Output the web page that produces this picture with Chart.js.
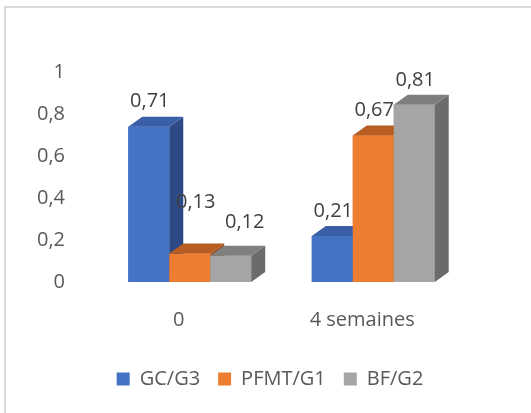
<!DOCTYPE html>
<html>
<head>
<meta charset="utf-8">
<script src="https://cdn.jsdelivr.net/npm/chart.js@4"></script>
<style>
  html, body { margin: 0; padding: 0; background: #fff; }
  #wrap { position: relative; width: 531px; height: 413px; overflow: hidden; }
  #frame { position: absolute; left: 4px; top: 6px; width: 600px; height: 500px;
           border-left: 2px solid #d9d9d9; border-top: 2px solid #d9d9d9; }
  canvas { position: absolute; left: 0; top: 0; }
</style>
</head>
<body>
<div id="wrap">
  <div id="frame"></div>
  <canvas id="myChart" width="531" height="413"></canvas>
</div>
<script>
'use strict';

const categories = ['0', '4 semaines'];
const seriesNames = ['GC/G3', 'PFMT/G1', 'BF/G2'];
const gcValues = [0.71, 0.21];
const pfmtValues = [0.13, 0.67];
const bfValues = [0.12, 0.81];
const yTickLabels = ['0', '0,2', '0,4', '0,6', '0,8', '1'];

const frontColors = ['#4472C4', '#ED7D31', '#A5A5A5'];
const topColors = ['#3A5FA6', '#B85E22', '#7F7F7F'];
const sideColors = ['#2D4A86', '#A0501C', '#6B6B6B'];
const depthX = 14, depthY = 10;
const fontFam = '"Open Sans", sans-serif';

// Excel moved a couple of value labels around, [dx, dy] per dataset/category
const labelNudge = {
  '1-0': [5, -26],
  '2-0': [13, -8]
};

const ctx = document.getElementById('myChart').getContext('2d');

const bar3d = {
  id: 'bar3d',
  afterDatasetsDraw(chart) {
    const c = chart.ctx;
    c.save();
    for (let i = 0; i < categories.length; i++) {
      chart.data.datasets.forEach((ds, d) => {
        const bar = chart.getDatasetMeta(d).data[i];
        const p = bar.getProps(['x', 'y', 'base', 'width'], true);
        const l = p.x - p.width / 2, r = p.x + p.width / 2;
        c.fillStyle = frontColors[d];
        c.fillRect(l, p.y, p.width, p.base - p.y);
        c.fillStyle = sideColors[d];
        c.beginPath();
        c.moveTo(r, p.y);
        c.lineTo(r + depthX, p.y - depthY);
        c.lineTo(r + depthX, p.base - depthY);
        c.lineTo(r, p.base);
        c.closePath();
        c.fill();
        c.fillStyle = topColors[d];
        c.beginPath();
        c.moveTo(l, p.y);
        c.lineTo(l + depthX, p.y - depthY);
        c.lineTo(r + depthX, p.y - depthY);
        c.lineTo(r, p.y);
        c.closePath();
        c.fill();
      });
    }
    // value labels
    c.font = '20px ' + fontFam;
    c.fillStyle = '#404040';
    c.textAlign = 'center';
    c.textBaseline = 'middle';
    chart.data.datasets.forEach((ds, d) => {
      chart.getDatasetMeta(d).data.forEach((bar, i) => {
        const nudge = labelNudge[d + '-' + i] || [0, 0];
        const txt = ds.data[i].toFixed(2).replace('.', ',');
        c.fillText(txt, bar.x + 1 + nudge[0], bar.y - 25 + nudge[1]);
      });
    });
    c.restore();
  }
};

let myChartObj = {
  type: 'bar',
  data: {
    labels: categories,
    datasets: [
      { label: seriesNames[0], data: gcValues, backgroundColor: frontColors[0], yAxisID: 'yb' },
      { label: seriesNames[1], data: pfmtValues, backgroundColor: frontColors[1], yAxisID: 'yb' },
      { label: seriesNames[2], data: bfValues, backgroundColor: frontColors[2], yAxisID: 'yb' }
    ]
  },
  options: {
    responsive: false,
    animation: false,
    categoryPercentage: 0.67,
    barPercentage: 1,
    layout: { padding: { top: 72, left: 10, right: 1, bottom: 14 } },
    plugins: {
      legend: {
        position: 'bottom',
        labels: {
          boxWidth: 13,
          boxHeight: 13,
          padding: 18,
          color: '#595959',
          font: { family: fontFam, size: 20 }
        }
      },
      tooltip: { enabled: false }
    },
    scales: {
      x: {
        grid: { display: false, drawTicks: false },
        border: { display: false },
        afterFit: (scale) => { scale.height = 69; },
        ticks: {
          color: '#595959',
          padding: 26,
          labelOffset: -11,
          font: { family: fontFam, size: 20 }
        }
      },
      y: {
        min: 0,
        max: 1,
        grid: { display: false, drawTicks: false },
        border: { display: false },
        afterFit: (scale) => { scale.width = 88; },
        ticks: {
          stepSize: 0.2,
          padding: 33,
          color: '#595959',
          font: { family: fontFam, size: 20 },
          callback: (v, i) => yTickLabels[i]
        }
      },
      yb: {
        position: 'right',
        min: 0,
        max: 0.96,
        grid: { display: false, drawTicks: false },
        border: { display: false },
        ticks: { display: false },
        afterFit: (scale) => { scale.width = 65; }
      }
    }
  },
  plugins: [bar3d]
};

const myChart = new Chart(ctx, myChartObj);
</script>
</body>
</html>
